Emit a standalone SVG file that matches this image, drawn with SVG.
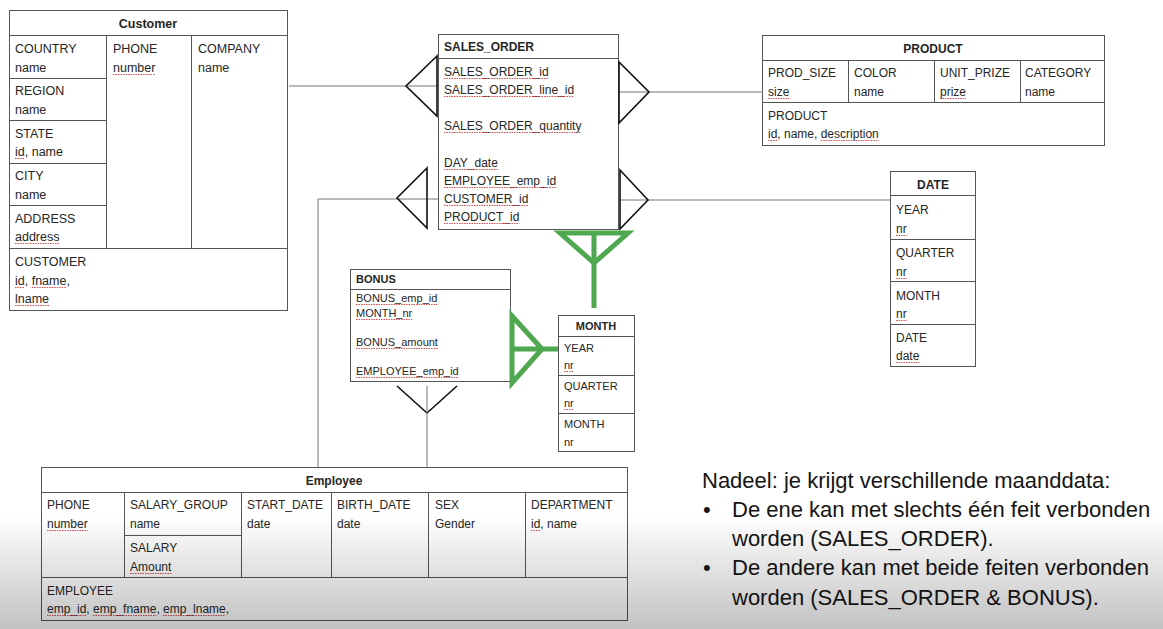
<svg xmlns="http://www.w3.org/2000/svg" width="1163" height="629" viewBox="0 0 1163 629">
<style>
.t{font-family:"Liberation Sans",Arial,sans-serif;font-size:12px;fill:#262626}
.c{font-size:12.5px}
.s{font-size:11px}
.b{font-weight:bold}
.m{text-anchor:middle}
.box{fill:#fff;stroke:#555;stroke-width:1}
.gl{stroke:#555;stroke-width:1;fill:none}
.cn{stroke:#777;stroke-width:1;fill:none}
.tri{stroke:#111;stroke-width:1.6;fill:none;stroke-linejoin:miter}
.gr{stroke:#4fa84f;stroke-width:5;fill:none;stroke-linejoin:miter}
.sq{stroke:#d65050;stroke-width:1.2;stroke-dasharray:1.5 1;fill:none}
.nt{font-family:"Liberation Sans",Arial,sans-serif;font-size:22px;fill:#151515}
</style>
<defs>
<linearGradient id="shade" x1="0" y1="0" x2="0" y2="1">
<stop offset="0" stop-color="#000" stop-opacity="0"/>
<stop offset="1" stop-color="#000" stop-opacity="0.24"/>
</linearGradient>
</defs>
<rect width="1163" height="629" fill="#fff"/>

<g id="customer">
<rect class="box" x="9.5" y="10.5" width="278" height="300"/>
<path class="gl" d="M9.5 35.5H287.5M106.5 35.5V248.5M191.5 35.5V248.5M9.5 78.5H106.5M9.5 120.5H106.5M9.5 163.5H106.5M9.5 205.5H106.5M9.5 248.5H287.5"/>
<text class="t c b m" x="148" y="28">Customer</text>
<text class="t c" x="15" y="53">COUNTRY</text><text class="t c" x="15" y="72">name</text>
<text class="t c" x="15" y="95">REGION</text><text class="t c" x="15" y="114">name</text>
<text class="t c" x="15" y="138">STATE</text><text class="t c" x="15" y="156">id, name</text>
<text class="t c" x="15" y="180">CITY</text><text class="t c" x="15" y="199">name</text>
<text class="t c" x="15" y="223">ADDRESS</text><text class="t c" x="15" y="241">address</text>
<text class="t c" x="15" y="266">CUSTOMER</text><text class="t c" x="15" y="285">id, fname,</text><text class="t c" x="15" y="303">lname</text>
<text class="t c" x="113" y="53">PHONE</text><text class="t c" x="113" y="72">number</text>
<text class="t c" x="198" y="53">COMPANY</text><text class="t c" x="198" y="72">name</text>
<path class="sq" d="M113 74.5h42.4M15 158.5h9.7M15 243.5h44.5M15 287.5h9.7M31.7 287.5h34.7M15 305.5h34"/>
</g>

<g id="sales_order">
<rect class="box" x="438.5" y="34.5" width="180" height="195"/>
<path class="gl" d="M438.5 58.5H618.5"/>
<text class="t b" x="444" y="51">SALES_ORDER</text>
<text class="t" x="444" y="76">SALES_ORDER_id</text>
<text class="t" x="444" y="94">SALES_ORDER_line_id</text>
<text class="t" x="444" y="130">SALES_ORDER_quantity</text>
<text class="t" x="444" y="167">DAY_date</text>
<text class="t" x="444" y="185">EMPLOYEE_emp_id</text>
<text class="t" x="444" y="203">CUSTOMER_id</text>
<text class="t" x="444" y="221">PRODUCT_id</text>
<path class="sq" d="M444 78.5h104.7M444 96.5h130M444 132.5h137.4M444 169.5h54.7M444 187.5h112M444 205.5h84.7M444 223.5h75.3"/>
</g>

<g id="product">
<rect class="box" x="762.5" y="35.5" width="342" height="110"/>
<path class="gl" d="M762.5 60.5H1104.5M762.5 102.5H1104.5M848.5 60.5V102.5M934.5 60.5V102.5M1020.5 60.5V102.5"/>
<text class="t b m" x="933" y="53">PRODUCT</text>
<text class="t" x="768" y="77">PROD_SIZE</text><text class="t" x="768" y="96">size</text>
<text class="t" x="854" y="77">COLOR</text><text class="t" x="854" y="96">name</text>
<text class="t" x="940" y="77">UNIT_PRIZE</text><text class="t" x="940" y="96">prize</text>
<text class="t" x="1025" y="77">CATEGORY</text><text class="t" x="1025" y="96">name</text>
<text class="t" x="768" y="120">PRODUCT</text><text class="t" x="768" y="138">id, name, description</text>
<path class="sq" d="M768 98.5h21.3M940 98.5h26M768 140.5h9.3M820.7 140.5h58"/>
</g>

<g id="date">
<rect class="box" x="890.5" y="171.5" width="85" height="195"/>
<path class="gl" d="M890.5 195.5H975.5M890.5 239.5H975.5M890.5 281.5H975.5M890.5 324.5H975.5"/>
<text class="t b m" x="933" y="189">DATE</text>
<text class="t" x="896" y="214">YEAR</text><text class="t" x="896" y="233">nr</text>
<text class="t" x="896" y="257">QUARTER</text><text class="t" x="896" y="276">nr</text>
<text class="t" x="896" y="300">MONTH</text><text class="t" x="896" y="318">nr</text>
<text class="t" x="896" y="342">DATE</text><text class="t" x="896" y="360">date</text>
<path class="sq" d="M896 235.5h10.7M896 278.5h10.7M896 320.5h10.7M896 362.5h23.4"/>
</g>

<g id="bonus">
<rect class="box" x="350.5" y="269.5" width="160" height="112"/>
<path class="gl" d="M350.5 289.5H510.5"/>
<text class="t s b" x="356" y="283">BONUS</text>
<text class="t s" x="356" y="302">BONUS_emp_id</text>
<text class="t s" x="356" y="317">MONTH_nr</text>
<text class="t s" x="356" y="346">BONUS_amount</text>
<text class="t s" x="356" y="375">EMPLOYEE_emp_id</text>
<path class="sq" d="M356 304.5h81.3M356 319.5h56.2M356 348.5h81.9M356 377.5h102.7"/>
</g>

<g id="month">
<rect class="box" x="558.5" y="315.5" width="76" height="136"/>
<path class="gl" d="M558.5 336.5H634.5M558.5 375.5H634.5M558.5 413.5H634.5"/>
<text class="t s b m" x="596" y="330">MONTH</text>
<text class="t s" x="564" y="352">YEAR</text><text class="t s" x="564" y="369">nr</text>
<text class="t s" x="564" y="390">QUARTER</text><text class="t s" x="564" y="407">nr</text>
<text class="t s" x="564" y="428">MONTH</text><text class="t s" x="564" y="446">nr</text>
<path class="sq" d="M564 371.5h9.8M564 409.5h9.8"/>
</g>

<g id="employee">
<rect class="box" x="41.5" y="467.5" width="586" height="153"/>
<path class="gl" d="M41.5 492.5H627.5M41.5 577.5H627.5M124.5 492.5V577.5M241.5 492.5V577.5M331.5 492.5V577.5M428.5 492.5V577.5M525.5 492.5V577.5M124.5 535.5H241.5"/>
<text class="t b m" x="334" y="485">Employee</text>
<text class="t" x="47" y="509">PHONE</text><text class="t" x="47" y="528">number</text>
<text class="t" x="130" y="509">SALARY_GROUP</text><text class="t" x="130" y="528">name</text>
<text class="t" x="130" y="552">SALARY</text><text class="t" x="130" y="571">Amount</text>
<text class="t" x="247" y="509">START_DATE</text><text class="t" x="247" y="528">date</text>
<text class="t" x="337" y="509">BIRTH_DATE</text><text class="t" x="337" y="528">date</text>
<text class="t" x="435" y="509">SEX</text><text class="t" x="435" y="528">Gender</text>
<text class="t" x="531" y="509">DEPARTMENT</text><text class="t" x="531" y="528">id, name</text>
<text class="t" x="47" y="595">EMPLOYEE</text>
<text class="t" x="47" y="613">emp_id, emp_fname, emp_lname,</text>
<path class="sq" d="M47 530.5h40.7M130 573.5h41.4M531 530.5h9.3M47 615.5h39.3M93 615.5h63.4M163 615.5h62.7"/>
</g>

<g id="connectors">
<path class="cn" d="M289 86H438"/>
<polygon class="tri" points="437,56 406,86 437,116"/>
<path class="cn" d="M619 92H763"/>
<polygon class="tri" points="619,62 649,92 619,123"/>
<path class="cn" d="M318 467V199H438"/>
<polygon class="tri" points="427,168 397,198 427,228"/>
<path class="cn" d="M620 200H890"/>
<polygon class="tri" points="620,170 648,200 620,229"/>
<polyline class="tri" points="397,386 427,413 457,386"/>
<path class="cn" d="M427 386V467"/>
<polygon class="gr" points="560,233 628,233 594,263"/>
<path class="gr" d="M594 233V308"/>
<polygon class="gr" points="512,316 542,349 512,383"/>
<path class="gr" d="M512 349H558"/>
</g>

<g id="note">
<text class="nt" x="702" y="488">Nadeel: je krijgt verschillende maanddata:</text>
<text class="nt" x="703" y="517">•</text>
<text class="nt" x="732" y="517">De ene kan met slechts één feit verbonden</text>
<text class="nt" x="732" y="546">worden (SALES_ORDER).</text>
<text class="nt" x="703" y="575">•</text>
<text class="nt" x="732" y="575">De andere kan met beide feiten verbonden</text>
<text class="nt" x="732" y="605">worden (SALES_ORDER &amp; BONUS).</text>
</g>

<rect x="0" y="515" width="1163" height="114" fill="url(#shade)"/>
</svg>
